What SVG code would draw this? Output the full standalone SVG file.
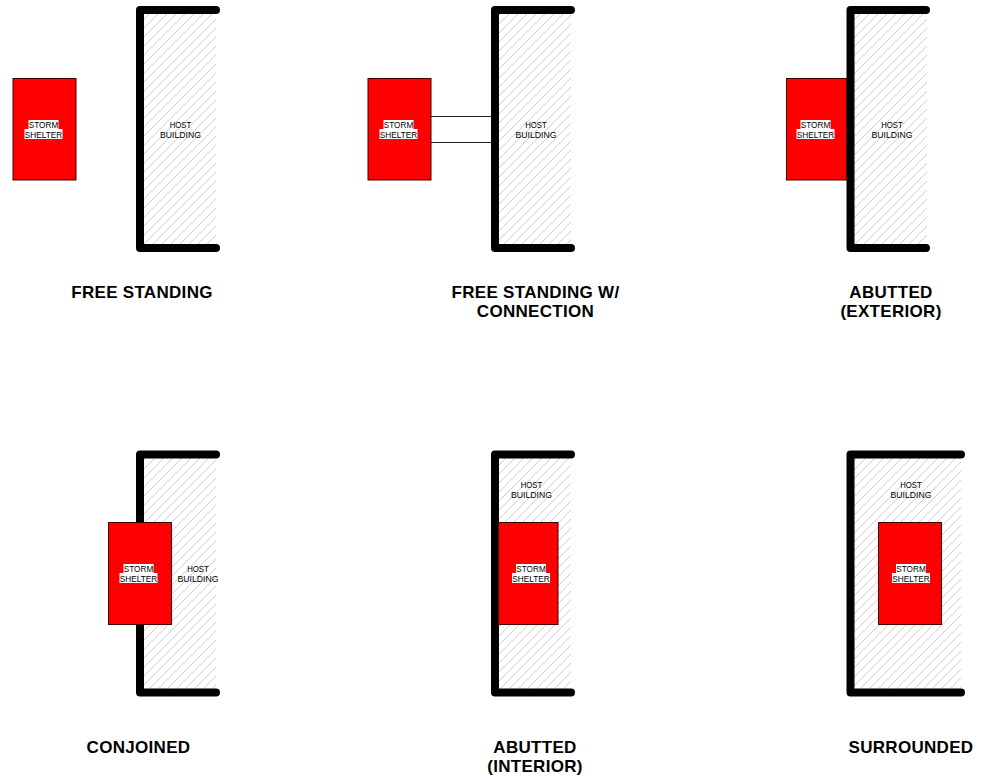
<svg xmlns="http://www.w3.org/2000/svg" width="981" height="776" viewBox="0 0 981 776">
<style>
.wall{fill:none;stroke:#000;stroke-width:8;stroke-linecap:round;stroke-linejoin:round}
.hatch{fill:url(#h)}
.red{fill:#f00;stroke:#400;stroke-width:1}
.wb{fill:#fff}
.s{font-family:"Liberation Sans",Arial,sans-serif;font-size:9.6px;text-anchor:middle;fill:#000}
.t{font-family:"Liberation Sans",Arial,sans-serif;font-size:17px;font-weight:bold;text-anchor:middle;fill:#000;letter-spacing:.3px}
.c{stroke:#222;stroke-width:1;fill:none}
</style>
<defs>
<pattern id="h" width="9" height="9" patternUnits="userSpaceOnUse" patternTransform="translate(1 0)">
<path d="M-1 10L10 -1M-1 1L1 -1M8 10L10 8" stroke="#cdcdcd" stroke-width="1" fill="none"/>
</pattern>
</defs>
<rect width="981" height="776" fill="#fff"/>
<g id="connectors">
<path class="c" d="M431 116.500H491M431 142.500H491"/>
</g>
<g id="free-standing">
<rect class="hatch" x="143" y="13" width="73" height="232"/>
<path class="wall" d="M216 10H140V248H216"/>
<text class="s" x="180.500" y="128" textLength="21.500" lengthAdjust="spacingAndGlyphs">HOST</text>
<text class="s" x="180.500" y="137.700" textLength="41" lengthAdjust="spacingAndGlyphs">BUILDING</text>
<rect class="red" x="13" y="78.500" width="63" height="101.500"/>
<path class="wb" d="M28.500 120H58.500V129H62.500V139H24.500V129H28.500Z"/>
<text class="s" x="43.500" y="128" textLength="29.500" lengthAdjust="spacingAndGlyphs">STORM</text>
<text class="s" x="43.500" y="137.700" textLength="37.500" lengthAdjust="spacingAndGlyphs">SHELTER</text>
<text class="t" x="142" y="298">FREE STANDING</text>
</g>
<g id="free-standing-connection">
<rect class="hatch" x="498" y="13" width="73" height="232"/>
<path class="wall" d="M571 10H495V248H571"/>
<text class="s" x="536" y="128" textLength="21.500" lengthAdjust="spacingAndGlyphs">HOST</text>
<text class="s" x="536" y="137.700" textLength="41" lengthAdjust="spacingAndGlyphs">BUILDING</text>
<rect class="red" x="368" y="78.500" width="63" height="101.500"/>
<path class="wb" d="M383.500 120H413.500V129H417.500V139H379.500V129H383.500Z"/>
<text class="s" x="398.500" y="128" textLength="29.500" lengthAdjust="spacingAndGlyphs">STORM</text>
<text class="s" x="398.500" y="137.700" textLength="37.500" lengthAdjust="spacingAndGlyphs">SHELTER</text>
<text class="t" x="535.500" y="298">FREE STANDING W/</text><text class="t" x="535.500" y="317">CONNECTION</text>
</g>
<g id="abutted-exterior">
<rect class="hatch" x="854" y="13" width="73" height="232"/>
<path class="wall" d="M926 10H850.500V248H926"/>
<text class="s" x="892" y="128" textLength="21.500" lengthAdjust="spacingAndGlyphs">HOST</text>
<text class="s" x="892" y="137.700" textLength="41" lengthAdjust="spacingAndGlyphs">BUILDING</text>
<rect class="red" x="786.500" y="78.500" width="60" height="101.500"/>
<path class="wb" d="M800.500 120H830.500V129H834.500V139H796.500V129H800.500Z"/>
<text class="s" x="815.500" y="128" textLength="29.500" lengthAdjust="spacingAndGlyphs">STORM</text>
<text class="s" x="815.500" y="137.700" textLength="37.500" lengthAdjust="spacingAndGlyphs">SHELTER</text>
<text class="t" x="891" y="298">ABUTTED</text><text class="t" x="891" y="317">(EXTERIOR)</text>
</g>
<g id="conjoined">
<rect class="hatch" x="143" y="458" width="73" height="231"/>
<path class="wall" d="M216 454.500H140V692.500H216"/>
<rect class="red" x="108.500" y="522.500" width="63" height="102"/>
<path class="wb" d="M123.500 564H153.500V573H157.500V583H119.500V573H123.500Z"/>
<text class="s" x="138.500" y="572" textLength="29.500" lengthAdjust="spacingAndGlyphs">STORM</text>
<text class="s" x="138.500" y="581.700" textLength="37.500" lengthAdjust="spacingAndGlyphs">SHELTER</text>
<text class="s" x="198" y="572" textLength="21.500" lengthAdjust="spacingAndGlyphs">HOST</text>
<text class="s" x="198" y="581.700" textLength="41" lengthAdjust="spacingAndGlyphs">BUILDING</text>
<text class="t" x="138.500" y="753">CONJOINED</text>
</g>
<g id="abutted-interior">
<rect class="hatch" x="498" y="458" width="73" height="231"/>
<path class="wall" d="M571 454.500H495V692.500H571"/>
<text class="s" x="531.500" y="488" textLength="21.500" lengthAdjust="spacingAndGlyphs">HOST</text>
<text class="s" x="531.500" y="497.700" textLength="41" lengthAdjust="spacingAndGlyphs">BUILDING</text>
<rect class="red" x="498.500" y="522.500" width="59.500" height="102"/>
<path class="wb" d="M516 564H546V573H550V583H512V573H516Z"/>
<text class="s" x="531" y="572" textLength="29.500" lengthAdjust="spacingAndGlyphs">STORM</text>
<text class="s" x="531" y="581.700" textLength="37.500" lengthAdjust="spacingAndGlyphs">SHELTER</text>
<text class="t" x="535" y="753">ABUTTED</text><text class="t" x="535" y="772">(INTERIOR)</text>
</g>
<g id="surrounded">
<rect class="hatch" x="854" y="458" width="107" height="231"/>
<path class="wall" d="M961 454.500H850.500V692.500H961"/>
<text class="s" x="911" y="488" textLength="21.500" lengthAdjust="spacingAndGlyphs">HOST</text>
<text class="s" x="911" y="497.700" textLength="41" lengthAdjust="spacingAndGlyphs">BUILDING</text>
<rect class="red" x="878.500" y="522.500" width="63" height="102"/>
<path class="wb" d="M896 564H926V573H930V583H892V573H896Z"/>
<text class="s" x="911" y="572" textLength="29.500" lengthAdjust="spacingAndGlyphs">STORM</text>
<text class="s" x="911" y="581.700" textLength="37.500" lengthAdjust="spacingAndGlyphs">SHELTER</text>
<text class="t" x="911" y="753">SURROUNDED</text>
</g>
</svg>
